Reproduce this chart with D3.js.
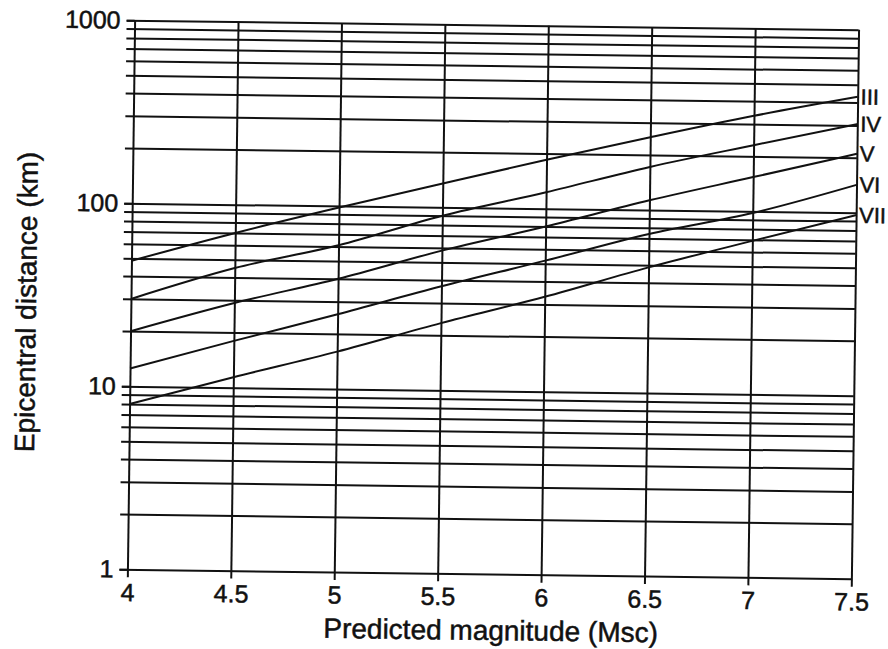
<!DOCTYPE html>
<html>
<head>
<meta charset="utf-8">
<script src="https://cdn.jsdelivr.net/npm/d3@7"></script>
<style>
  body { margin: 0; background: #fff; }
  text { font-family: "Liberation Sans", Arial, sans-serif; fill: #111; stroke: #111; stroke-width: 0.5px; }
</style>
</head>
<body>
<div id="chart"></div>
<script>
// Epicentral distance vs predicted magnitude, one line per MMI intensity
// values at every 0.5 magnitude step

const magnitudes = [4, 4.5, 5, 5.5, 6, 6.5, 7, 7.5];
const intensities = ['III', 'IV', 'V', 'VI', 'VII'];

const distIII = [48.5, 70, 98, 135, 185, 250, 333, 430];
const distIV  = [30, 45, 61, 90, 123, 172, 230, 305];
const distV   = [20, 29, 40, 58, 80, 113, 154, 210];
const distVI  = [12.5, 18, 25.6, 37, 52, 74, 98, 142];
const distVII = [8, 11.4, 16, 23.3, 33, 48.6, 69, 97];

const xTickValues = [4, 4.5, 5, 5.5, 6, 6.5, 7, 7.5];
const yLabelValues = [1, 10, 100, 1000];

const series = [distIII, distIV, distV, distVI, distVII];

const width = 888;
const height = 649;
const margin = { left: 131, top: 25 };
const W = 724, H = 549;
// the scan is tilted a little clockwise
const tilt = 0.75;

const svg = d3.select('#chart')
  .append('svg')
  .attr('width', width)
  .attr('height', height);

const g = svg.append('g')
  .attr('transform', `rotate(${tilt},493,299.5) translate(${margin.left},${margin.top})`);

const x = d3.scaleLinear().domain([4, 7.5]).range([0, W]);
const y = d3.scaleLog().domain([1, 1000]).range([H, 0]);

// horizontal grid, poking out past the left axis as minor ticks
g.append('g')
  .attr('transform', `translate(${W},0)`)
  .call(d3.axisRight(y).tickValues(y.ticks()).tickSizeInner(-(W + 8)).tickSizeOuter(0).tickFormat(''))
  .call(a => a.select('.domain').remove());

// vertical grid, poking out below the bottom line
g.append('g')
  .call(d3.axisTop(x).tickValues(xTickValues).tickSizeInner(-(H + 8)).tickSizeOuter(0).tickFormat(''))
  .call(a => a.select('.domain').remove());

g.selectAll('.tick line')
  .attr('stroke', '#111')
  .attr('stroke-width', 2);

// y labels
g.append('g')
  .call(d3.axisLeft(y).tickValues(yLabelValues).tickSize(8).tickPadding(6).tickFormat(d3.format('d')))
  .call(a => a.select('.domain').remove())
  .call(a => a.selectAll('line').attr('stroke', '#111').attr('stroke-width', 2))
  .call(a => a.selectAll('text').style('font-size', '25px').attr('fill', '#111'));

// x labels
g.append('g')
  .attr('transform', `translate(0,${H})`)
  .call(d3.axisBottom(x).tickValues(xTickValues).tickSize(8).tickPadding(6).tickFormat(d => d))
  .call(a => a.select('.domain').remove())
  .call(a => a.selectAll('line').remove())
  .call(a => a.selectAll('text').style('font-size', '25px').attr('fill', '#111'));

// intensity lines
const line = d3.line()
  .x((d, i) => x(magnitudes[i]))
  .y(d => y(d))
  .curve(d3.curveMonotoneX);

g.selectAll('.intensity')
  .data(series)
  .enter().append('path')
  .attr('class', 'intensity')
  .attr('d', line)
  .attr('fill', 'none')
  .attr('stroke', '#111')
  .attr('stroke-width', 2);

g.selectAll('.ilabel')
  .data(series)
  .enter().append('text')
  .attr('class', 'ilabel')
  .attr('x', W + 3)
  .attr('y', d => y(d[d.length - 1]))
  .attr('dy', '0.35em')
  .style('font-size', '22px')
  .text((d, i) => intensities[i]);

// axis titles
g.append('text')
  .attr('x', 495 - margin.left)
  .attr('y', 640 - margin.top)
  .attr('text-anchor', 'middle')
  .style('font-size', '28px')
  .text('Predicted magnitude (Msc)');

g.append('text')
  .attr('transform', `translate(${36 - margin.left},${308 - margin.top}) rotate(-90)`)
  .attr('text-anchor', 'middle')
  .style('font-size', '28px')
  .text('Epicentral distance (km)');
</script>
</body>
</html>
